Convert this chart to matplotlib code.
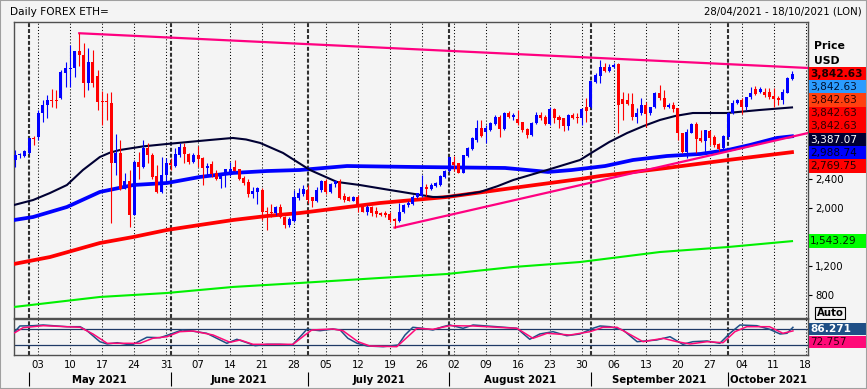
import matplotlib
matplotlib.use("Agg")
import matplotlib.pyplot as plt
import pandas as pd
from matplotlib.patches import Rectangle

W, H = 867, 389
BG = "#f4f4f4"
FS = 7.3
plt.rcParams["font.family"] = "DejaVu Sans"

# daily candles 28/04/2021 .. 15/10/2021
candle_dates = pd.date_range("2021-04-28", "2021-10-15", freq="D")
axis_dates = pd.date_range("2021-04-28", "2021-10-18", freq="D")

opens = [2661, 2725, 2716, 2753, 2970, 2983, 3305, 3420, 3489, 3490, 3512, 3866, 3920, 3926, 4170,
         4110, 3728, 4018, 3820, 3480, 3475, 3452, 2615, 2762, 2256, 2376, 1902, 2638, 2560, 2822,
         2730, 2445, 2224, 2454, 2615, 2578, 2730, 2845, 2740, 2640, 2730, 2684, 2546, 2600, 2486,
         2394, 2470, 2480, 2569, 2537, 2417, 2362, 2192, 2224, 2250, 1960, 1948, 1925, 2008, 1879,
         1764, 1824, 2132, 2192, 2247, 2146, 2100, 2247, 2376, 2224, 2330, 2376, 2164, 2146, 2100,
         2146, 2040, 1948, 2008, 1962, 1925, 1925, 1916, 1842, 1824, 1948, 2040, 2054, 2155, 2164,
         2284, 2256, 2302, 2316, 2422, 2514, 2638, 2615, 2486, 2716, 2808, 2937, 3098, 3052, 3075,
         3158, 3259, 3084, 3314, 3250, 3222, 3190, 3084, 3006, 3167, 3282, 3259, 3158, 3360, 3250,
         3236, 3130, 3282, 3259, 3236, 3397, 3388, 3742, 3820, 3940, 3894, 3940, 3986, 3498, 3489,
         3434, 3259, 3305, 3420, 3305, 3388, 3581, 3512, 3388, 3420, 3374, 3029, 2776, 3038, 3158,
         2960, 2928, 3066, 2974, 2882, 2822, 2974, 3314, 3443, 3489, 3397, 3535, 3636, 3604, 3604,
         3604, 3544, 3512, 3489, 3590, 3774]
highs = [2799, 2760, 2800, 2969, 2990, 3350, 3490, 3560, 3636, 3628, 3900, 4018, 4248, 4170, 4410,
         4271, 4202, 4179, 3903, 3613, 3581, 3604, 3020, 2937, 2477, 2523, 2661, 2776, 2937, 2891,
         2760, 2592, 2707, 2684, 2684, 2822, 2891, 2900, 2760, 2760, 2850, 2700, 2620, 2652, 2523,
         2477, 2537, 2634, 2661, 2537, 2440, 2394, 2293, 2293, 2280, 2017, 2060, 2030, 2060, 1890,
         1880, 2247, 2270, 2316, 2316, 2146, 2293, 2385, 2394, 2348, 2385, 2394, 2201, 2160, 2160,
         2178, 2050, 2040, 2026, 2008, 1950, 1962, 1948, 1860, 2063, 2050, 2090, 2178, 2210, 2454,
         2330, 2339, 2362, 2454, 2523, 2707, 2716, 2615, 2730, 2845, 2974, 3213, 3213, 3144, 3190,
         3282, 3282, 3328, 3342, 3305, 3351, 3190, 3098, 3190, 3328, 3328, 3282, 3397, 3374, 3282,
         3236, 3296, 3305, 3305, 3374, 3512, 3751, 3857, 4041, 3995, 3986, 3995, 3995, 3604, 3581,
         3581, 3374, 3512, 3466, 3397, 3604, 3696, 3627, 3443, 3466, 3374, 3038, 3084, 3176, 3190,
         3075, 3075, 3075, 3006, 2891, 3006, 3328, 3489, 3498, 3512, 3535, 3664, 3682, 3673, 3650,
         3650, 3650, 3544, 3636, 3811, 3894]
lows = [2569, 2690, 2700, 2745, 2870, 2937, 3180, 3235, 3388, 3374, 3510, 3673, 3673, 3810, 3958,
        3535, 3627, 3673, 3351, 3144, 3213, 1796, 2454, 2247, 2256, 1732, 1902, 2395, 2546, 2615,
        2400, 2200, 2200, 2362, 2523, 2569, 2700, 2620, 2600, 2620, 2560, 2316, 2450, 2422, 2385,
        2270, 2293, 2440, 2514, 2385, 2316, 2146, 2132, 2054, 1833, 1695, 1880, 1900, 1860, 1718,
        1740, 1810, 2109, 2164, 2063, 2017, 2086, 2224, 2192, 2210, 2293, 2118, 2086, 2090, 2090,
        1948, 1940, 1900, 1888, 1870, 1890, 1879, 1810, 1730, 1810, 1930, 2020, 2040, 2140, 2155,
        2164, 2247, 2284, 2302, 2408, 2500, 2514, 2477, 2477, 2707, 2799, 2914, 2974, 2900, 3066,
        3144, 2983, 3075, 3236, 3213, 3144, 3052, 2960, 2992, 3158, 3213, 3144, 3144, 3167, 3098,
        3066, 3075, 3222, 3167, 3144, 3190, 3374, 3719, 3719, 3880, 3880, 3926, 3029, 3213, 3420,
        3213, 3167, 3282, 3121, 3282, 3374, 3489, 3360, 3374, 3328, 2937, 2753, 2684, 3029, 2753,
        2914, 2776, 2868, 2845, 2790, 2799, 2946, 3296, 3434, 3296, 3351, 3498, 3558, 3581, 3526,
        3500, 3397, 3420, 3434, 3581, 3765]
closes = [2730, 2735, 2790, 2969, 2950, 3305, 3420, 3489, 3480, 3475, 3880, 3926, 3932, 4170, 4110,
          3728, 4018, 3728, 3460, 3465, 3455, 2615, 2762, 2256, 2376, 1902, 2638, 2569, 2822, 2730,
          2431, 2224, 2454, 2624, 2592, 2744, 2845, 2740, 2640, 2730, 2680, 2546, 2580, 2470, 2394,
          2477, 2537, 2537, 2514, 2394, 2339, 2192, 2238, 2279, 1948, 1948, 1925, 2017, 1870, 1764,
          1842, 2155, 2210, 2256, 2109, 2100, 2247, 2376, 2224, 2330, 2376, 2132, 2109, 2100, 2146,
          2017, 1948, 2008, 1934, 1916, 1902, 1902, 1833, 1824, 1948, 2040, 2072, 2155, 2201, 2284,
          2256, 2316, 2348, 2440, 2514, 2698, 2592, 2486, 2730, 2831, 2960, 3098, 2992, 3098, 3176,
          3259, 3084, 3314, 3259, 3282, 3176, 3075, 3006, 3176, 3282, 3236, 3158, 3360, 3236, 3213,
          3130, 3282, 3236, 3236, 3360, 3342, 3751, 3834, 3949, 3894, 3949, 3972, 3420, 3434, 3434,
          3259, 3314, 3420, 3296, 3388, 3590, 3512, 3388, 3420, 3360, 3029, 2776, 3052, 3158, 2946,
          2928, 3075, 2960, 2868, 2808, 2992, 3314, 3452, 3489, 3397, 3535, 3590, 3572, 3636, 3558,
          3535, 3498, 3489, 3604, 3788, 3842.63]

# moving averages, read at sample days (day 0 = 28/04)
navy_days = [-0.3, 3.9, 7.6, 11.3, 14.8, 18.5, 20.7, 22.9, 28.0, 33.2, 42.6, 47.6, 50.5, 53.6, 58.6,
             64.5, 70.4, 75.4, 82.0, 91.4, 93.6, 97.5, 101.7, 105.5, 109.0, 116.4, 123.6, 126.4,
             130.0, 133.9, 137.5, 141.1, 144.5, 148.3, 155.8, 163.0, 170.0]
navy_vals = [2041, 2110, 2207, 2317, 2524, 2703, 2763, 2800, 2850, 2883, 2938, 2966, 2945, 2897, 2759,
             2524, 2359, 2317, 2248, 2152, 2152, 2180, 2221, 2300, 2386, 2524, 2662, 2772, 2910,
             3034, 3130, 3214, 3270, 3310, 3310, 3352, 3387]
blue_days = [-0.3, 3.9, 11.3, 18.5, 25.8, 33.2, 40.4, 47.6, 55.1, 62.3, 72.6, 87.0, 107.2, 116.6,
             121.8, 129.1, 135.2, 142.6, 149.9, 156.0, 160.8, 166.7, 170.0]
blue_vals = [1834, 1876, 2014, 2221, 2317, 2345, 2428, 2483, 2510, 2524, 2579, 2566, 2552, 2497,
             2524, 2579, 2662, 2717, 2745, 2800, 2869, 2966, 2989]
red_days = [-0.3, 7.6, 18.5, 25.8, 33.2, 40.4, 47.6, 55.1, 62.3, 79.8, 94.5, 108.9, 123.6, 128.0,
            142.6, 156.0, 170.0]
red_vals = [1228, 1324, 1517, 1600, 1697, 1766, 1834, 1890, 1931, 2069, 2152, 2276, 2400, 2441,
            2552, 2662, 2770]
green_days = [-0.3, 18.5, 33.2, 47.6, 62.3, 79.8, 94.5, 108.9, 123.6, 141.1, 156.0, 170.0]
green_vals = [635, 773, 828, 911, 966, 1035, 1090, 1186, 1255, 1393, 1462, 1543]

# trend lines
top_trend_days = [14, 173.5]
top_trend_vals = [4410, 3931]
low_trend_days = [83, 173.5]
low_trend_vals = [1730, 3034]

# stochastic
k_days = [-0.1, 1.0, 3.9, 6.1, 11.3, 14.2, 15.7, 18.5, 20.1, 22.3, 24.4, 25.8, 28.8, 31.7, 34.5,
          36.5, 38.2, 41.9, 44.1, 46.3, 48.5, 50.7, 52.5, 55.1, 57.9, 60.6, 62.7, 63.8, 66.7, 69.5,
          71.1, 72.8, 74.8, 77.0, 80.5, 83.8, 85.3, 87.0, 89.2, 91.4, 93.6, 95.1, 98.0, 100.2, 105.4,
          109.8, 112.6, 114.8, 117.7, 120.7, 123.6, 126.4, 128.0, 130.2, 133.0, 136.1, 140.4, 143.3,
          146.1, 148.3, 151.4, 154.2, 156.4, 158.6, 162.3, 165.1, 167.4, 168.9, 170.2]
k_vals = [69.9, 91.3, 92.4, 95, 88.6, 88.6, 73.6, 32.4, 23.8, 28.6, 22.6, 22.6, 48.9, 47.4, 63.9,
          76.3, 73.6, 63.9, 45.1, 26.4, 41.4, 28.6, 17.4, 22.6, 22.6, 20, 57.5, 78.9, 73.6, 80,
          76.3, 45.1, 26.4, 16.3, 13.6, 20, 57.5, 86.4, 82.6, 76.3, 88.6, 95, 82.6, 95, 88.6,
          82.6, 41.4, 61.3, 69.9, 54.9, 61.3, 82.6, 91.3, 88.6, 76.3, 32.4, 38.8, 51.1,
          22.6, 32.4, 35, 26.4, 63.9, 95, 92.4, 78.9, 61.3, 63.9, 86.3]
d_days = [-0.1, 1.7, 6.1, 14.2, 17.0, 20.1, 24.4, 27.3, 30.1, 33.2, 36.0, 38.9, 43.3, 47.0, 49.2,
          52.0, 57.3, 60.8, 63.4, 64.9, 69.5, 71.7, 75.0, 77.6, 83.5, 85.9, 87.9, 91.4, 95.1, 100.2,
          109.8, 113.3, 116.4, 121.4, 125.8, 128.6, 131.7, 137.4, 141.8, 144.8, 147.7, 151.4, 154.9,
          157.5, 160.1, 165.1, 168.0, 170.2]
d_vals = [66.1, 84.9, 92.4, 86.4, 61.3, 26.4, 26.4, 26.4, 45.1, 51.1, 69.9, 72.5, 57.5, 30.1, 38.8,
          22.6, 22.6, 22.6, 57.5, 76.3, 80, 73.6, 32.4, 16.3, 13.6, 51.1, 82.6, 78.9, 92.4, 91.3,
          82.6, 45.1, 63.9, 57.5, 69.9, 86.4, 86.4, 32.4, 45.1, 32.4, 23.8, 32.4, 28.6,
          69.9, 88.6, 88.6, 63.9, 72.8]

# 1,600 sits under the green flag, so only its tick mark shows
price_ticks = [800, 1200, 1600, 2000, 2400]
price_tick_labels = ["800", "1,200", "", "2,000", "2,400"]

# right hand value flags: text, background, text colour, bold
price_flags = [
    ("3,842.63", "#ff0000", "#1a0000", True),
    ("3,842.63", "#2b9cff", "#001030", False),
    ("3,842.63", "#ff4010", "#300000", False),
    ("3,842.63", "#ff0000", "#300000", False),
    ("3,842.63", "#ff0000", "#300000", False),
    ("3,387.07", "#000033", "#ffffff", False),
    ("2,988.74", "#0000ff", "#000020", False),
    ("2,769.75", "#ff0000", "#200000", False),
]
green_flag = ("1,543.29", "#00ff00", "#002000", False)
stoch_flags = [("86.271", "#1f4f86", "#ffffff", True), ("72.757", "#ff0a78", "#300010", False)]


def fx(px):
    return px / W


def fy(py):
    return 1 - py / H


fig = plt.figure(figsize=(W / 100, H / 100), dpi=100, facecolor=BG)
ax = fig.add_axes([fx(14), fy(318), (808 - 14) / W, (318 - 22) / H])
axs = fig.add_axes([fx(14), fy(355), (808 - 14) / W, (355 - 319) / H])

xl = (-0.285, 173.5)
for a in (ax, axs):
    a.set_facecolor(BG)
    a.set_xlim(*xl)
    for s in a.spines.values():
        s.set_color("#505050")
        s.set_linewidth(1)
ax.set_ylim(483, 4565)
axs.set_ylim(-17.5, 117.5)

mondays = [i for i, d in enumerate(axis_dates) if d.weekday() == 0]
firsts = [i for i, d in enumerate(axis_dates) if d.day == 1]

for a in (ax, axs):
    for i in mondays:
        a.axvline(i, color="black", lw=0.75, ls=(0, (1, 2)), zorder=1)
    for i in firsts:
        a.axvline(i, color="#303030", lw=1.5, ls=(0, (1.9, 0.95)), zorder=1)

# averages and trend lines
ax.plot(green_days, green_vals, color="#00f000", lw=1.5, zorder=3)
ax.plot(red_days, red_vals, color="#ff0000", lw=2.7, zorder=3)
ax.plot(blue_days, blue_vals, color="#0000ff", lw=2.7, zorder=3)
ax.plot(navy_days, navy_vals, color="#000033", lw=1.5, zorder=3)
ax.plot(top_trend_days, top_trend_vals, color="#ff0080", lw=1.6, zorder=4)
ax.plot(low_trend_days, low_trend_vals, color="#ff0080", lw=1.6, zorder=4)

# candles
xs = list(range(len(candle_dates)))
cols = ["#0000ff" if c >= o else "#ff0000" for o, c in zip(opens, closes)]
ax.vlines(xs, lows, highs, colors=cols, lw=0.8, zorder=5)
bottoms = [min(o, c) for o, c in zip(opens, closes)]
heights = [max(abs(c - o), 14) for o, c in zip(opens, closes)]
ax.bar(xs, heights, bottom=bottoms, width=0.66, color=cols, linewidth=0, zorder=6)

ax.set_xticks([])
ax.yaxis.tick_right()
ax.set_yticks(price_ticks)
ax.set_yticklabels(price_tick_labels)
ax.tick_params(axis="y", direction="out", length=3, width=0.8, pad=2, labelsize=FS, colors="black")

# stochastic panel
axs.axhline(80, color="#1f3a66", lw=0.9, zorder=2)
axs.axhline(20, color="#1f3a66", lw=0.9, zorder=2)
axs.plot(k_days, k_vals, color="#1f4f86", lw=1.1, zorder=3)
axs.plot(d_days, d_vals, color="#ff0a78", lw=1.1, zorder=4)
axs.set_yticks([])
axs.set_xticks(mondays)
axs.set_xticklabels([f"{axis_dates[i].day:02d}" for i in mondays])
axs.tick_params(axis="x", length=0, pad=3.5, labelsize=FS, colors="black")

bounds = firsts + [xl[1]]
for j, i in enumerate(firsts):
    mid = (bounds[j] + bounds[j + 1]) / 2
    axs.text(mid, (355 - 380) / 36, axis_dates[i].strftime("%B %Y"), transform=axs.get_xaxis_transform(),
             ha="center", va="center", fontsize=FS, fontweight="bold")
axs.vlines(firsts, (355 - 372) / 36, (355 - 386) / 36, transform=axs.get_xaxis_transform(),
           colors="black", lw=0.8, clip_on=False)


def flag(yc, txt, bg, fg, bold, h=13.2):
    fig.patches.append(Rectangle((fx(809), fy(yc + h / 2)), fx(866) - fx(809), h / H,
                                 transform=fig.transFigure, facecolor=bg, edgecolor="none"))
    fig.text(fx(810), fy(yc), txt, color=fg, fontsize=FS + 0.3, va="center", ha="left",
             fontweight="bold" if bold else "normal")


for k, (t, bg, fg, b) in enumerate(price_flags):
    flag(73.6 + 13.2 * k, t, bg, fg, b)
flag(241, *green_flag)
flag(329, *stoch_flags[0], h=12.5)
flag(342, *stoch_flags[1], h=12)

fig.text(fx(814), fy(46), "Price", fontsize=FS + 0.5, fontweight="bold", va="center")
fig.text(fx(814), fy(61), "USD", fontsize=FS + 0.5, fontweight="bold", va="center")
fig.text(fx(830), fy(313), "Auto", fontsize=FS, fontweight="bold", ha="center", va="center",
         bbox=dict(boxstyle="square,pad=0.12", fc=BG, ec="black", lw=0.8))

fig.text(fx(10), fy(12), "Daily FOREX ETH=", fontsize=7.6, va="center")
fig.text(fx(862), fy(12), "28/04/2021 - 18/10/2021 (LON)", fontsize=FS, ha="right", va="center")

fig.patches.append(Rectangle((0, 0), 1, 1, transform=fig.transFigure, fill=False,
                             edgecolor="#a0a0a0", lw=1.5))

fig.savefig("out.png", dpi=100, facecolor=BG)
